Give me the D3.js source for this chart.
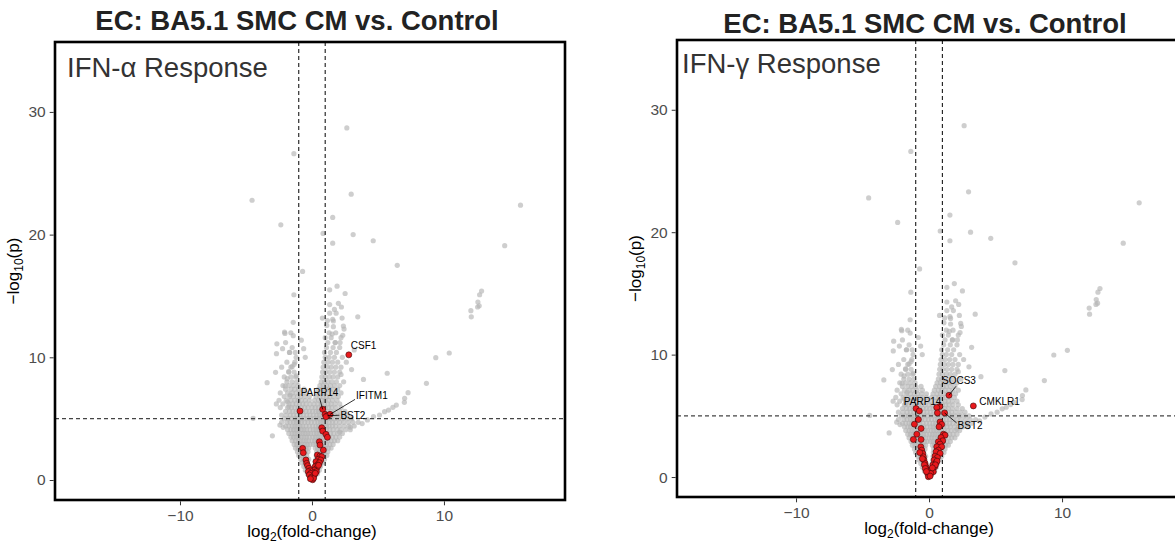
<!DOCTYPE html>
<html>
<head>
<meta charset="utf-8">
<script src="https://cdn.jsdelivr.net/npm/d3@7"></script>
<style>
  html, body { margin: 0; padding: 0; background: #fff; }
  svg { display: block; font-family: "Liberation Sans", Arial, Helvetica, sans-serif; }
</style>
</head>
<body>
<svg id="chart" width="1175" height="546"></svg>
<script>
// ---------------- DATA ----------------
const chartTitle = "EC: BA5.1 SMC CM vs. Control";
const panelNames = ["IFN-α Response", "IFN-γ Response"];
const xTicks = [-10, 0, 10];
const yTicks = [0, 10, 20, 30];
const fcCutoff = 1;      // |log2 FC| threshold
const pCutoff = 5;       // -log10(p) threshold

// dense core of non-highlighted genes, rows of [ -log10 p , [log2 FC values] ]
const grayCoreRows = [
  [0.2, [-0.15,-0.05,0.1,0.2]],
  [0.5, [-0.35,-0.2,0.15,0.3,0.42]],
  [0.8, [-0.5,-0.35,-0.2,0.2,0.35,0.55]],
  [1.1, [-0.62,-0.45,-0.28,0.25,0.45,0.65]],
  [1.4, [-0.75,-0.55,-0.35,0.28,0.48,0.68,0.85]],
  [1.7, [-0.85,-0.65,-0.45,-0.25,0.3,0.5,0.72,0.95]],
  [2.0, [-1.0,-0.8,-0.6,-0.4,0.32,0.52,0.72,0.92,1.12]],
  [2.3, [-1.1,-0.9,-0.7,-0.5,-0.3,0.35,0.55,0.75,0.95,1.2]],
  [2.6, [-1.25,-1.05,-0.85,-0.65,-0.45,-0.25,0.25,0.42,0.62,0.82,1.02,1.25,1.45]],
  [2.9, [-1.35,-1.15,-0.95,-0.75,-0.55,-0.35,-0.15,0.1,0.3,0.5,0.7,0.9,1.1,1.35,1.6]],
  [3.2, [-1.5,-1.25,-1.05,-0.85,-0.65,-0.45,-0.25,0.0,0.2,0.4,0.6,0.8,1.0,1.2,1.45,1.7,1.95]],
  [3.5, [-1.6,-1.4,-1.2,-1.0,-0.8,-0.6,-0.4,-0.2,0.05,0.25,0.45,0.65,0.85,1.05,1.3,1.55,1.8,2.1]],
  [3.8, [-1.75,-1.5,-1.3,-1.1,-0.9,-0.7,-0.5,-0.3,-0.1,0.15,0.35,0.55,0.75,0.95,1.15,1.4,1.65,1.95,2.3]],
  [4.1, [-1.85,-1.6,-1.4,-1.2,-1.0,-0.8,-0.6,-0.4,-0.15,0.1,0.3,0.5,0.7,0.9,1.1,1.35,1.6,1.9,2.2,2.55,2.9]],
  [4.4, [-2.0,-1.75,-1.5,-1.3,-1.1,-0.9,-0.7,-0.45,-0.2,0.05,0.3,0.5,0.7,0.9,1.1,1.3,1.55,1.8,2.1,2.45,2.8,3.2]],
  [4.7, [-2.3,-1.9,-1.65,-1.4,-1.2,-1.0,-0.8,-0.55,-0.3,-0.05,0.2,0.45,0.65,0.85,1.05,1.3,1.55,1.8,2.1,2.4,2.75,3.1,3.5]],
  [5.0, [-2.1,-1.8,-1.55,-1.3,-1.1,-0.85,-0.6,-0.35,-0.1,0.15,0.4,0.6,0.8,1.0,1.2,1.45,1.7,2.0,2.3,2.65,3.0]],
  [5.3, [-2.3,-1.95,-1.65,-1.4,-1.15,-0.9,-0.65,-0.4,-0.15,0.1,0.35,0.55,0.75,0.95,1.2,1.45,1.7,2.0,2.35,2.7]],
  [5.6, [-2.0,-1.7,-1.45,-1.2,-0.95,-0.7,-0.45,-0.2,0.05,0.3,0.5,0.7,0.95,1.2,1.45,1.75,2.1,2.5]],
  [5.9, [-2.4,-1.85,-1.55,-1.3,-1.05,-0.8,-0.55,-0.3,0.0,0.25,0.5,0.75,1.0,1.25,1.5,1.8,2.2]],
  [6.2, [-2.2,-1.75,-1.45,-1.2,-0.95,-0.7,-0.45,-0.15,0.15,0.45,0.7,0.95,1.2,1.45,1.75,2.1]],
  [6.5, [-2.5,-1.95,-1.6,-1.3,-1.05,-0.8,-0.5,-0.2,0.2,0.5,0.75,1.0,1.25,1.55,1.9]],
  [6.8, [-2.1,-1.7,-1.4,-1.1,-0.85,-0.55,-0.2,0.3,0.6,0.85,1.1,1.35,1.65,2.0]],
  [7.1, [-2.4,-1.85,-1.5,-1.2,-0.9,-0.5,0.4,0.7,0.95,1.2,1.5,1.8,2.2]],
  [7.4, [-2.0,-1.6,-1.3,-1.0,-0.6,0.5,0.8,1.05,1.3,1.6,1.95]],
  [7.7, [-2.2,-1.75,-1.4,-1.05,0.6,0.85,1.1,1.4,1.7,2.1]],
  [8.0, [-1.9,-1.5,-1.15,0.7,0.95,1.2,1.5,1.85,2.4]],
  [8.4, [-2.1,-1.6,-1.25,0.75,1.0,1.3,1.6,1.95]],
  [8.8, [-1.75,-1.35,0.8,1.05,1.35,1.7,2.1]],
  [9.2, [-2.3,-1.6,0.85,1.15,1.45,1.8,2.2]],
  [9.6, [-1.9,-1.3,0.9,1.2,1.55,1.95]],
  [10.0, [-1.2,1.0,1.3,1.7,2.3]],
  [10.4, [-1.7,0.95,1.4,1.85]],
  [10.8, [-1.5,1.1,1.6,2.1]],
  [11.2, [-2.0,1.2,1.75]],
  [11.6, [1.0,1.45,2.2]],
  [12.0, [-1.6,1.3,1.8]]
];

// scattered non-highlighted genes [log2 FC, -log10 p]
const grayOutliers = [
  [2.64,28.7],[-1.37,26.6],[-4.54,22.8],[15.8,22.4],[2.97,23.3],[-2.36,20.8],
  [1.57,21.4],[0.84,20.1],[3.12,20.0],[1.57,19.3],[4.64,19.5],[14.6,19.1],
  [6.46,17.5],[-0.71,17.0],[-1.37,15.1],[1.34,15.5],[1.90,15.8],[2.51,15.2],
  [12.85,15.4],[12.7,15.1],[12.57,14.5],[12.67,14.2],[12.55,14.1],[12.04,13.8],[12.07,13.3],
  [1.34,14.3],[2.0,14.4],[2.23,14.1],[1.70,13.9],[1.83,13.6],[1.34,13.6],
  [0.79,13.2],[1.57,13.1],[2.28,13.2],[3.47,13.3],
  [1.17,13.0],[1.62,12.96],[1.12,12.6],[1.62,12.5],[2.38,12.55],[2.43,12.3],
  [1.52,11.9],[2.33,11.8],[1.77,11.2],[2.13,11.2],
  [10.4,10.35],[9.38,9.97],[8.67,7.88],[7.28,7.12],[7.02,6.66],[7.0,6.33],
  [6.39,6.11],[6.13,5.92],[5.8,5.7],[5.5,5.57],[5.12,5.3],[4.66,5.16],[4.2,4.9],[3.8,4.6],
  [5.70,8.7],[3.9,8.2],[2.9,4.3],[2.1,3.9],[2.6,9.6],[3.0,9.0],[2.2,8.6],[3.2,10.6],
  [-1.42,12.85],[-2.08,12.06],[-1.42,11.76],[-2.66,11.1],[-2.23,10.7],[-2.76,8.78],
  [-3.4,7.93],[-0.81,11.4],[-0.63,10.7],[-1.70,10.4],[-1.27,10.4],[-0.51,10.0],
  [-1.35,9.43],[-1.5,9.24],[-1.77,8.83],[-1.88,8.26],[-1.17,8.48],[-2.03,7.66],
  [-1.65,6.93],[-1.85,6.38],[-1.75,5.97],[-4.46,5.03],[-2.43,4.48],[-2.18,4.29],
  [-3.0,3.6],[-2.7,6.2],[-2.05,11.95],[-2.69,10.3]
];

// highlighted hallmark genes, IFN-alpha response
const alphaRed = [
  [2.79,10.2],[-0.91,5.62],[0.81,5.76],[0.99,5.35],[1.17,5.24],[1.37,5.35],[1.06,5.16],
  [0.74,4.26],[0.81,3.99],[1.06,3.72],[1.17,3.48],[0.56,3.12],[0.61,2.85],[0.86,2.44],
  [-0.71,2.58],[-0.66,2.22],[0.41,2.04],[0.61,1.96],[0.74,1.9],[0.48,1.69],[0.66,1.63],
  [0.3,1.49],[0.56,1.41],[0.41,1.22],[0.23,1.08],[0.36,0.95],[0.17,0.81],[0.33,0.68],
  [0.08,0.6],[0.17,0.41],[0,0.27],[0.05,0.02],[-0.46,1.63],[-0.4,1.36],[-0.33,1.17],
  [-0.23,0.95],[-0.15,0.76],[-0.28,0.68],[-0.1,0.54],[-0.2,0.41],[-0.05,0.22],
  [0.12,0.15],[-0.12,0.1],[0.25,0.55],[0.5,1.2]
];
// highlighted hallmark genes, IFN-gamma response
const gammaRed = [
  [1.5,6.68],[3.33,5.81],[-0.98,5.6],[-0.73,5.4],[-0.8,4.7],[-1.1,4.32],[-0.6,3.97],
  [-0.92,3.5],[-0.6,3.07],[-1.18,3.07],[-0.62,2.47],[-0.55,2.2],[-0.47,1.93],[-0.43,1.66],
  [-0.38,1.39],[-0.3,1.12],[-0.23,0.84],[-0.17,0.57],[-0.1,0.3],[-0.05,0.03],
  [0.81,5.76],[1.17,5.24],[0.58,5.68],[0.63,5.24],[0.83,4.5],[0.95,4.3],[0.75,4.1],
  [1.08,3.5],[1.2,3.42],[0.9,3.23],[1.03,2.96],[0.7,2.88],[0.83,2.69],[0.58,2.47],
  [0.95,2.47],[0.7,2.2],[0.53,2.06],[0.83,1.93],[0.45,1.71],[0.63,1.6],[0.38,1.39],
  [0.53,1.17],[0.28,0.98],[0.43,0.84],[0.2,0.63],[0.32,0.43],[0.13,0.3],[0.08,0.08],
  [-0.5,1.5],[-0.35,1.0],[-0.28,0.7],[0.6,1.3],[0.48,1.0],[-0.7,2.0],[-0.2,0.45],[0.25,0.75]
];

// labelled genes [name, log2 FC, -log10 p]
const alphaLabelled = [["CSF1",2.79,10.2],["PARP14",0.81,5.76],["IFITM1",1.37,5.35],["BST2",1.17,5.24]];
const gammaLabelled = [["SOCS3",1.5,6.68],["CMKLR1",3.33,5.81],["PARP14",0.81,5.76],["BST2",1.17,5.24]];

// ---------------- LAYOUT (positions / styles) ----------------
const labelOffsets = {
  // [text dx, text dy (baseline), segment start dx, dy] relative to the point, px
  alpha: {
    CSF1:   [2, -6, null, null],
    PARP14: [-22, -13, -3, -11],
    IFITM1: [26, -15, 25, -15],
    BST2:   [13, 3.5, 12, -0.5]
  },
  gamma: {
    SOCS3:  [-7, -11, 7, -9],
    CMKLR1: [6, -0.5, null, null],
    PARP14: [-36, -2, null, null],
    BST2:   [13, 16, 12, 10]
  }
};

const panels = [
  { name: panelNames[0], red: alphaRed, labels: alphaLabelled, offs: labelOffsets.alpha,
    box: {x: 55, y: 42, w: 510, h: 458}, xDom: [-19.47, 19.17],
    titleX: 297, titleY: 30, yLabX: 19, nameX: 67, nameY: 77 },
  { name: panelNames[1], red: gammaRed, labels: gammaLabelled, offs: labelOffsets.gamma,
    box: {x: 677, y: 40, w: 513, h: 457}, xDom: [-18.95, 19.62],
    titleX: 925, titleY: 33, yLabX: 641, nameX: 682, nameY: 73 }
];
const yDom = [-1.63, 35.7];

// ---------------- DRAW ----------------
const grayGenes = [];
grayCoreRows.forEach(([y, xs]) => xs.forEach(x => grayGenes.push([x, y])));
grayOutliers.forEach(d => grayGenes.push(d));

const svg = d3.select("#chart");

panels.forEach((p, i) => {
  const b = p.box;
  const x = d3.scaleLinear().domain(p.xDom).range([b.x, b.x + b.w]);
  const y = d3.scaleLinear().domain(yDom).range([b.y + b.h, b.y]);
  const g = svg.append("g");

  const clipId = "clip" + i;
  svg.append("clipPath").attr("id", clipId)
    .append("rect").attr("x", b.x).attr("y", b.y).attr("width", b.w).attr("height", b.h);
  const plot = g.append("g").attr("clip-path", `url(#${clipId})`);

  // title
  g.append("text").attr("x", p.titleX).attr("y", p.titleY)
    .attr("text-anchor", "middle").attr("font-size", 27.5).attr("font-weight", "bold")
    .attr("fill", "#222").text(chartTitle);

  // points
  plot.append("g").selectAll("circle").data(grayGenes).join("circle")
    .attr("cx", d => x(d[0])).attr("cy", d => y(d[1])).attr("r", 2.6)
    .attr("fill", "#b4b4b4").attr("fill-opacity", 0.65);

  // threshold lines
  [-fcCutoff, fcCutoff].forEach(v => {
    plot.append("line").attr("x1", x(v)).attr("x2", x(v)).attr("y1", b.y).attr("y2", b.y + b.h)
      .attr("stroke", "#000").attr("stroke-width", 1).attr("stroke-dasharray", "4,3");
  });
  plot.append("line").attr("x1", b.x).attr("x2", b.x + b.w).attr("y1", y(pCutoff)).attr("y2", y(pCutoff))
    .attr("stroke", "#444").attr("stroke-width", 1.1).attr("stroke-dasharray", "4,3");

  plot.append("g").selectAll("circle").data(p.red).join("circle")
    .attr("cx", d => x(d[0])).attr("cy", d => y(d[1])).attr("r", 3)
    .attr("fill", "#e8191c").attr("stroke", "#3b0a0a").attr("stroke-width", 0.6);

  // gene labels
  p.labels.forEach(([gene, gx, gy]) => {
    const o = p.offs[gene];
    const px = x(gx), py = y(gy);
    if (o[2] !== null) {
      plot.append("line").attr("x1", px + o[2]).attr("y1", py + o[3]).attr("x2", px).attr("y2", py)
        .attr("stroke", "#000").attr("stroke-width", 0.8);
    }
    plot.append("text").attr("x", px + o[0]).attr("y", py + o[1])
      .attr("font-size", 10).attr("fill", "#000").text(gene);
  });

  // panel name
  g.append("text").attr("x", p.nameX).attr("y", p.nameY).attr("font-size", 27.5)
    .attr("fill", "#333").text(p.name);

  // frame
  g.append("rect").attr("x", b.x).attr("y", b.y).attr("width", b.w).attr("height", b.h)
    .attr("fill", "none").attr("stroke", "#000").attr("stroke-width", 2.6);

  // axes
  const xAxis = d3.axisBottom(x).tickValues(xTicks).tickSize(4).tickPadding(5).tickFormat(d3.format("d"));
  const yAxis = d3.axisLeft(y).tickValues(yTicks).tickSize(4).tickPadding(4).tickFormat(d3.format("d"));
  const gx = g.append("g").attr("transform", `translate(0,${b.y + b.h + 1.3})`).call(xAxis);
  const gy = g.append("g").attr("transform", `translate(${b.x - 1.3},0)`).call(yAxis);
  [gx, gy].forEach(ax => {
    ax.select(".domain").remove();
    ax.selectAll(".tick line").attr("stroke", "#333");
    ax.selectAll(".tick text").attr("fill", "#4d4d4d").attr("font-size", 15.5)
      .attr("font-family", "Liberation Sans, Arial, sans-serif");
  });

  // axis titles
  const xt = g.append("text").attr("x", x(0)).attr("y", b.y + b.h + 37)
    .attr("text-anchor", "middle").attr("font-size", 17).attr("fill", "#000");
  xt.append("tspan").text("log");
  xt.append("tspan").attr("font-size", 12).attr("dy", 3.5).text("2");
  xt.append("tspan").attr("dy", -3.5).text("(fold-change)");

  const yt = g.append("text")
    .attr("transform", `translate(${p.yLabX},${b.y + b.h / 2}) rotate(-90)`)
    .attr("text-anchor", "middle").attr("font-size", 17).attr("fill", "#000");
  yt.append("tspan").text("\u2212log");
  yt.append("tspan").attr("font-size", 12).attr("dy", 4).text("10");
  yt.append("tspan").attr("dy", -4).text("(p)");
});
</script>
</body>
</html>
